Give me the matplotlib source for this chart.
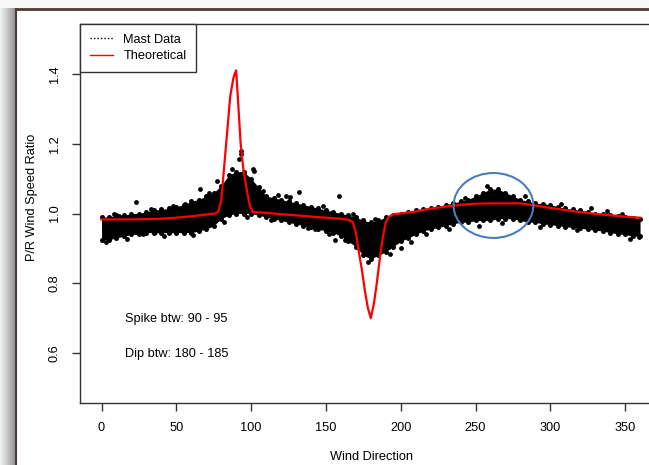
import numpy as np
import matplotlib.pyplot as plt
from matplotlib.patches import Ellipse, Rectangle
from matplotlib.lines import Line2D

plt.rcParams['font.family'] = ['Liberation Sans', 'DejaVu Sans']

# mast data band, every 5 degrees
arah = list(range(0, 361, 5))
atas = [0.99, 0.99, 0.995, 0.995, 1.0, 1.0, 1.005, 1.01, 1.012, 1.015,
        1.02, 1.025, 1.035, 1.04, 1.05, 1.06, 1.08, 1.11, 1.12, 1.12,
        1.10, 1.075, 1.05, 1.045, 1.04, 1.035, 1.03, 1.025, 1.02, 1.015,
        1.01, 1.005, 1.0, 0.995, 0.99, 0.98, 0.975, 0.98, 0.99, 0.995,
        1.0, 1.005, 1.01, 1.012, 1.015, 1.02, 1.025, 1.03, 1.035, 1.04,
        1.05, 1.06, 1.07, 1.07, 1.06, 1.05, 1.04, 1.035, 1.03, 1.028,
        1.025, 1.02, 1.015, 1.012, 1.01, 1.005, 1.0, 0.998, 0.995, 0.993,
        0.99, 0.988, 0.985]
bawah = [0.925, 0.925, 0.93, 0.935, 0.94, 0.94, 0.945, 0.945, 0.945, 0.945,
         0.945, 0.945, 0.945, 0.95, 0.955, 0.965, 0.985, 0.995, 1.0, 1.0,
         1.0, 0.995, 0.99, 0.985, 0.98, 0.975, 0.97, 0.965, 0.96, 0.955,
         0.95, 0.945, 0.935, 0.92, 0.905, 0.88, 0.87, 0.88, 0.89, 0.905,
         0.92, 0.93, 0.94, 0.95, 0.955, 0.96, 0.965, 0.97, 0.975, 0.975,
         0.98, 0.98, 0.98, 0.985, 0.985, 0.985, 0.98, 0.975, 0.975, 0.97,
         0.968, 0.965, 0.962, 0.96, 0.958, 0.955, 0.952, 0.95, 0.945, 0.942,
         0.94, 0.935, 0.935]

# loose points outside the band
arahLepas = [3, 8, 12, 17, 23, 28, 33, 36, 42, 48, 56, 61, 66, 72, 77, 82, 87,
             92, 93, 93, 97, 101, 102, 108, 113, 118, 123, 126, 132, 138, 143,
             148, 152, 156, 159, 163, 168, 178, 183, 193, 200, 207, 217, 232,
             243, 252, 258, 268, 283, 293, 307, 318, 327, 338, 348, 353, 359]
rasioLepas = [0.918, 1.0, 0.994, 0.928, 1.033, 0.942, 1.012, 0.947, 0.936,
              1.022, 1.028, 0.938, 1.071, 1.058, 1.093, 0.975, 1.128, 1.156,
              1.17, 1.18, 0.99, 1.127, 1.123, 1.065, 0.98, 1.052, 1.05, 1.047,
              1.061, 0.958, 0.956, 1.022, 0.94, 0.923, 1.049, 0.925, 0.998,
              0.862, 0.985, 0.885, 0.902, 0.918, 0.94, 0.956, 1.045, 0.965,
              1.078, 0.972, 1.05, 0.962, 1.026, 0.952, 1.016, 1.008, 0.999,
              0.928, 0.933]

# theoretical curve
arahTeori = [0, 10, 20, 30, 40, 50, 60, 70, 76, 78, 80, 82, 84, 86, 88, 89,
             90, 91, 93, 95, 97, 99, 101, 110, 120, 130, 140, 150, 160, 165,
             168, 170, 172, 174, 176, 178, 180, 182, 184, 186, 188, 190, 192,
             195, 200, 210, 220, 230, 240, 250, 260, 270, 280, 290, 300, 310,
             320, 330, 340, 350, 360]
rasioTeori = [0.983, 0.983, 0.983, 0.984, 0.985, 0.988, 0.992, 0.997, 1.0,
              1.005, 1.037, 1.135, 1.235, 1.335, 1.385, 1.40, 1.41, 1.34,
              1.20, 1.12, 1.07, 1.025, 1.004, 1.002, 0.998, 0.995, 0.991,
              0.988, 0.985, 0.982, 0.975, 0.945, 0.89, 0.84, 0.78, 0.73,
              0.70, 0.74, 0.80, 0.87, 0.93, 0.975, 0.99, 0.998, 1.0, 1.006,
              1.014, 1.02, 1.025, 1.028, 1.029, 1.029, 1.029, 1.023, 1.016,
              1.010, 1.004, 0.999, 0.995, 0.991, 0.988]

W, H = 649, 465
fs = 9.2
fig = plt.figure(figsize=(W / 100, H / 100), dpi=100)
fig.patch.set_facecolor('white')

# window frame around the screenshot
fig.patches.append(Rectangle((0, 1 - 8 / H), 1, 8 / H, transform=fig.transFigure,
                             facecolor='#f8f8f8', edgecolor='none', zorder=0))
bayang = fig.add_axes([0, 0, 15 / W, 1 - 8 / H])
bayang.imshow(np.linspace(0.95, 0.6, 30)[None, :], cmap='gray', vmin=0, vmax=1,
              aspect='auto')
bayang.axis('off')
fig.add_artist(Line2D([16 / W, 16 / W], [0, 1 - 9 / H], transform=fig.transFigure,
                      color='#4e3a34', lw=1.5))
fig.add_artist(Line2D([16 / W, 1], [1 - 9 / H, 1 - 9 / H], transform=fig.transFigure,
                      color='#4e3a34', lw=2))

kiri, kanan, atasPx, bawahPx = 80, 661.6, 24, 403
ax = fig.add_axes([kiri / W, 1 - bawahPx / H, (kanan - kiri) / W,
                   (bawahPx - atasPx) / H])

ax.fill_between(arah, bawah, atas, color='black', lw=0, zorder=2)
ax.scatter(arah, atas, s=13, color='black', lw=0, zorder=2)
ax.scatter(arah, bawah, s=13, color='black', lw=0, zorder=2)
ax.scatter(arahLepas, rasioLepas, s=12, color='black', lw=0, zorder=2)
ax.plot(arahTeori, rasioTeori, color='red', lw=1.6, zorder=3)

ax.add_patch(Ellipse((262, 1.023), 53.3, 0.186, fill=False,
                     edgecolor='#4a7ebb', lw=1.5, zorder=4))

ax.text(50, 0.697, 'Spike btw: 90 - 95', ha='center', va='center', fontsize=fs)
ax.text(50, 0.597, 'Dip btw: 180 - 185', ha='center', va='center', fontsize=fs)

ax.set_xlim(-14.4, 374.4)
ax.set_ylim(0.457, 1.543)
ax.set_xticks(range(0, 351, 50))
ax.set_yticks([0.6, 0.8, 1.0, 1.2, 1.4])
ax.set_yticklabels(['0.6', '0.8', '1.0', '1.2', '1.4'])
ax.tick_params(length=6, width=1, color='#333333', labelsize=fs, pad=8)
for lab in ax.get_yticklabels():
    lab.set_rotation(90)
    lab.set_va('center')
for s in ax.spines.values():
    s.set_color('#333333')
    s.set_linewidth(1)

ax.set_xlabel('Wind Direction', fontsize=fs)
ax.xaxis.set_label_coords((372 - kiri) / (kanan - kiri), -(457 - bawahPx) / (bawahPx - atasPx))
ax.set_ylabel('P/R Wind Speed Ratio', fontsize=fs)
ax.yaxis.set_label_coords(-(kiri - 32) / (kanan - kiri), (bawahPx - 197) / (bawahPx - atasPx))
ax.xaxis.label.set_va('center')
ax.yaxis.label.set_va('center')

pegangan = [Line2D([], [], color='black', ls=(0, (1, 1.5)), lw=1),
            Line2D([], [], color='red', lw=1)]
leg = ax.legend(pegangan, ['Mast Data', 'Theoretical'], loc='upper left',
                bbox_to_anchor=(0, 1), borderaxespad=0, fancybox=False,
                edgecolor='#333333', framealpha=1, fontsize=fs,
                handlelength=1.8, handletextpad=0.85, labelspacing=0.35,
                borderpad=0.75)
leg.get_frame().set_linewidth(1)

fig.savefig('out.png', dpi=100)
